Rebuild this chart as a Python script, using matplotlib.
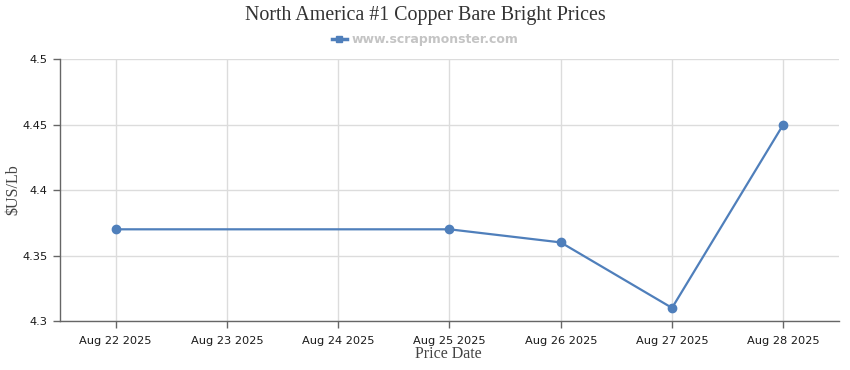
import matplotlib
matplotlib.use("Agg")
import matplotlib.dates as mdates
import matplotlib.pyplot as plt
import pandas as pd
from matplotlib.lines import Line2D

TITLE = "North America #1 Copper Bare Bright Prices"
SERIES_NAME = "www.scrapmonster.com"
DATES = ["2025-08-22", "2025-08-25", "2025-08-26", "2025-08-27", "2025-08-28"]
PRICES = [4.37, 4.37, 4.36, 4.31, 4.45]
Y_TICKS = [4.3, 4.35, 4.4, 4.45, 4.5]
Y_TICK_LABELS = ["4.3", "4.35", "4.4", "4.45", "4.5"]
TICK_DATES = ["2025-08-22", "2025-08-23", "2025-08-24", "2025-08-25",
              "2025-08-26", "2025-08-27", "2025-08-28"]

LINE_COLOR = "#4f7fbb"
GRID_COLOR = "#dcdcdc"
AXIS_COLOR = "#666666"
TEXT_COLOR = "#1a1a1a"


def main() -> None:
    dates = pd.to_datetime(DATES)
    tick_dates = pd.to_datetime(TICK_DATES)

    fig = plt.figure(figsize=(8.5, 3.7), dpi=100)
    ax = fig.add_axes([0.0706, 0.1324, 0.9164, 0.7081])

    ax.plot(dates, PRICES, color=LINE_COLOR, linewidth=1.6, marker="o",
            markersize=6, zorder=3)

    ax.set_ylim(4.3, 4.5)
    ax.set_yticks(Y_TICKS)
    ax.set_yticklabels(Y_TICK_LABELS)
    ax.set_xticks(tick_dates)
    ax.xaxis.set_major_formatter(mdates.DateFormatter("%b %d %Y"))
    half_day = pd.Timedelta(hours=12)
    ax.set_xlim(tick_dates[0] - half_day, tick_dates[-1] + half_day)

    ax.grid(True, color=GRID_COLOR, linewidth=1.0)
    ax.set_axisbelow(True)
    ax.spines["top"].set_visible(False)
    ax.spines["right"].set_visible(False)
    for side in ("left", "bottom"):
        ax.spines[side].set_color(AXIS_COLOR)
        ax.spines[side].set_linewidth(1.0)
    ax.tick_params(axis="both", length=5, width=1.0, color=AXIS_COLOR,
                   labelsize=8.2, labelcolor=TEXT_COLOR, pad=4)
    ax.tick_params(axis="x", pad=6)

    # axis titles placed in figure coords to match the reference layout
    fig.text(0.016, 0.4864, "$US/Lb", rotation=90, ha="center", va="center",
             family="Liberation Serif", fontsize=11.5, color="#444444")
    fig.text(0.528, 0.043, "Price Date", ha="center", va="center",
             family="Liberation Serif", fontsize=11.5, color="#444444")

    fig.text(0.5, 0.958, TITLE, ha="center", va="center",
             family="Liberation Serif", fontsize=14.4, color="#333333")

    handle = Line2D([0], [0], color=LINE_COLOR, linewidth=2.5, marker="s",
                    markersize=5)
    fig.legend(handles=[handle], labels=[SERIES_NAME], loc="center",
               bbox_to_anchor=(0.5, 0.892), frameon=False, handlelength=1.2,
               handletextpad=0.4,
               prop={"weight": "bold", "size": 9})
    for txt in fig.legends[0].get_texts():
        txt.set_color("#c4c4c4")

    fig.savefig("out.png", dpi=100)


if __name__ == "__main__":
    main()
